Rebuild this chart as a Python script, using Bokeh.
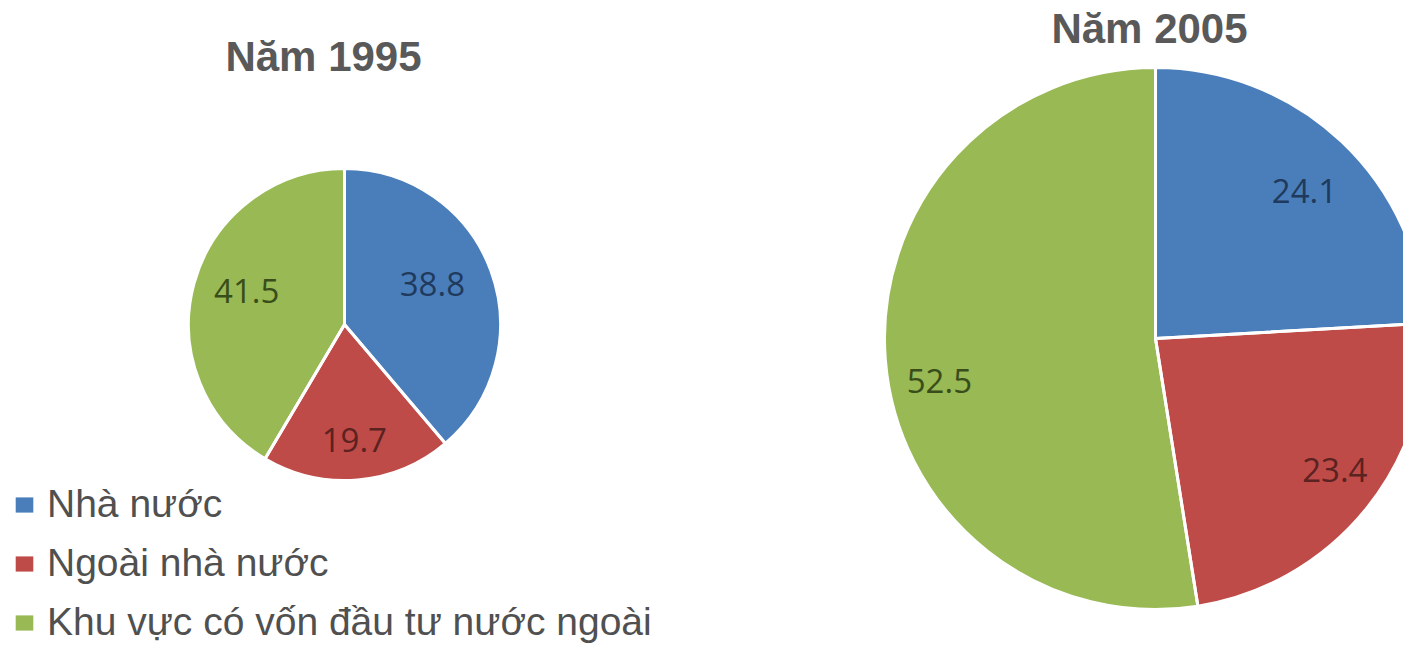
import math
from bokeh.plotting import figure
from bokeh.models import ColumnDataSource, Range1d, Label, Legend, LegendItem
from bokeh.embed import file_html
from bokeh.resources import INLINE

# ---------------- data ----------------
categories = ["Nhà nước", "Ngoài nhà nước", "Khu vực có vốn đầu tư nước ngoài"]
years = ["Năm 1995", "Năm 2005"]
values_1995 = [38.8, 19.7, 41.5]
values_2005 = [24.1, 23.4, 52.5]

# ---------------- style / layout ----------------
colors = ["#4a7ebb", "#be4b48", "#98b954"]
label_colors = ["#1f3a5c", "#5a2220", "#394d1a"]
W, H = 1403, 643
TOP = 659  # data y = TOP - pixel y

# pie layout (pixel positions), label radius factors and vertical nudges (px, down +)
pies = [
    dict(cx=344, cy=324, r=156, lf=[0.60, 0.74, 0.65], ldy=[-8, 0, -7],
         title_x=323, title_y=56),
    dict(cx=1155, cy=338, r=271, lf=[0.80, 0.85, 0.80], ldy=[10, -13, 25],
         title_x=1149, title_y=28),
]

p = figure(width=W, height=H, output_backend="svg", toolbar_location=None,
           x_range=Range1d(0, W), y_range=Range1d(TOP - H, TOP),
           x_axis_location=None, y_axis_location=None, min_border=0)
p.grid.visible = False
p.outline_line_color = None
p.background_fill_color = "white"
p.border_fill_color = "white"

all_values = [values_1995, values_2005]


def angles(vals, ci):
    total = sum(vals)
    c0 = sum(vals[:ci]) / total
    c1 = sum(vals[:ci + 1]) / total
    return math.radians(90 - c0 * 360), math.radians(90 - c1 * 360)


# one renderer per category (both pies), used by the legend too
cat_renderers = []
for ci, cat in enumerate(categories):
    xs, ys, rs, starts, ends = [], [], [], [], []
    for pi, vals in enumerate(all_values):
        pie = pies[pi]
        s, e = angles(vals, ci)
        xs.append(pie["cx"]); ys.append(TOP - pie["cy"]); rs.append(pie["r"])
        starts.append(s); ends.append(e)
    src = ColumnDataSource(dict(x=xs, y=ys, r=rs, s=starts, e=ends))
    rr = p.wedge(x="x", y="y", radius="r", start_angle="s", end_angle="e",
                 direction="clock", source=src, fill_color=colors[ci],
                 line_color=None)
    cat_renderers.append(rr)

# white separators
sx, sy, sr, ss, se = [], [], [], [], []
for pi, vals in enumerate(all_values):
    pie = pies[pi]
    for ci in range(len(vals)):
        s, e = angles(vals, ci)
        sx.append(pie["cx"]); sy.append(TOP - pie["cy"]); sr.append(pie["r"])
        ss.append(s); se.append(e)
p.wedge(x="x", y="y", radius="r", start_angle="s", end_angle="e", direction="clock",
        source=ColumnDataSource(dict(x=sx, y=sy, r=sr, s=ss, e=se)),
        fill_alpha=0, line_color="white", line_width=3)

# data labels
lx, ly, lt, lc = [], [], [], []
for pi, vals in enumerate(all_values):
    total = sum(vals)
    pie = pies[pi]
    for ci, v in enumerate(vals):
        mid = (sum(vals[:ci]) + v / 2) / total
        ang = math.radians(90 - mid * 360)
        d = pie["r"] * pie["lf"][ci]
        lx.append(pie["cx"] + d * math.cos(ang))
        ly.append(TOP - pie["cy"] + d * math.sin(ang) - pie["ldy"][ci])
        lt.append(f"{v:.1f}")
        lc.append(label_colors[ci])
p.text(x="x", y="y", text="t", text_color="c",
       source=ColumnDataSource(dict(x=lx, y=ly, t=lt, c=lc)),
       text_font={"value": "Open Sans"}, text_font_size={"value": "33px"},
       text_align="center", text_baseline="middle")

# titles
for pi, yr in enumerate(years):
    pie = pies[pi]
    p.add_layout(Label(x=pie["title_x"], y=TOP - pie["title_y"], text=yr,
                       text_font="Liberation Sans", text_font_size="42px",
                       text_font_style="bold", text_color="#595959",
                       text_align="center", text_baseline="alphabetic"))

legend = Legend(items=[LegendItem(label=c, renderers=[r]) for c, r in zip(categories, cat_renderers)],
                location=(13, -1), orientation="vertical", padding=0, margin=0,
                spacing=15, glyph_width=22, glyph_height=19, label_standoff=12,
                label_text_font="Liberation Sans", label_text_font_size="39px",
                label_text_color="#505050", border_line_color=None,
                background_fill_alpha=0)
p.add_layout(legend)

open("out.html", "w").write(file_html(p, INLINE))
